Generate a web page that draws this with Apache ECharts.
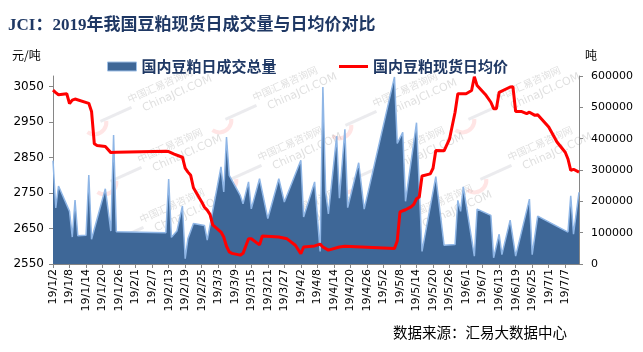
<!DOCTYPE html>
<html>
<head>
<meta charset="utf-8">
<script src="https://cdn.jsdelivr.net/npm/echarts@6/dist/echarts.min.js"></script>
<style>
    html, body { margin: 0; padding: 0; background: #fff; }
    #main { width: 643px; height: 352px; }
</style>
</head>
<body>
<div id="main"></div>
<script>
    // 国内豆粕日成交总量（吨）
    var volDates = ['1/2','1/3','1/4','1/8','1/9','1/10','1/11','1/14','1/15','1/16',
        '1/21','1/23','1/24','1/25','2/12','2/13','2/14','2/16','2/18','2/19',
        '2/20','2/22','2/26','2/27','3/4','3/5','3/6','3/7','3/11','3/12',
        '3/14','3/15','3/18','3/21','3/25','3/27','4/2','4/3','4/7','4/9',
        '4/10','4/11','4/12','4/15','4/16','4/18','4/19','4/23','4/25','5/6',
        '5/7','5/9','5/10','5/14','5/16','5/21','5/24','5/28','5/29','5/30',
        '5/31','6/4','6/5','6/10','6/11','6/13','6/14','6/17','6/19','6/24',
        '6/25','6/27','7/8','7/9','7/10','7/12'];
    var volume = [330000,179000,249000,168000,86000,204000,90000,92000,284000,79000,
        240000,105000,412000,103000,100000,271000,85000,105000,185000,17000,
        81000,129000,123000,76000,310000,230000,405000,283000,219000,192000,
        262000,176000,272000,145000,272000,198000,331000,150000,262000,40000,
        565000,230000,160000,408000,210000,430000,180000,323000,175000,597000,
        385000,420000,200000,451000,40000,279000,60000,62000,203000,168000,
        246000,25000,175000,155000,20000,95000,30000,140000,25000,207000,
        30000,153000,102000,218000,95000,229000];

    // 国内豆粕现货日均价（元/吨）
    var priceDates = ['1/2','1/3','1/4','1/7','1/8','1/9','1/10','1/15','1/16','1/17',
        '1/18','1/21','1/23','1/25','2/12','2/13','2/15','2/18','2/19','2/20',
        '2/21','2/22','2/25','2/26','2/27','2/28','3/1','3/4','3/5','3/6',
        '3/7','3/8','3/11','3/12','3/14','3/15','3/18','3/19','3/25','3/28',
        '3/31','4/2','4/3','4/7','4/9','4/10','4/12','4/16','4/18','5/6',
        '5/7','5/8','5/10','5/12','5/13','5/14','5/15','5/16','5/19','5/20',
        '5/21','5/24','5/26','5/28','5/29','6/1','6/3','6/4','6/5','6/8',
        '6/10','6/11','6/12','6/13','6/17','6/18','6/19','6/21','6/23','6/24',
        '6/26','6/27','7/1','7/4','7/7','7/8','7/9','7/10','7/12'];
    var price = [3040,3033,3027,3030,3002,3012,3015,3003,2980,2889,
        2884,2881,2864,2865,2868,2867,2860,2851,2820,2809,
        2800,2765,2725,2710,2702,2690,2660,2640,2626,2600,
        2584,2580,2575,2580,2621,2621,2604,2629,2626,2621,
        2603,2579,2598,2601,2606,2598,2589,2598,2600,2594,
        2615,2697,2703,2711,2718,2734,2739,2798,2804,2820,
        2870,2869,2903,2978,3030,3030,3039,3078,3053,3028,
        3006,2988,2988,3034,3049,3050,2980,2980,2974,2978,
        2969,2971,2936,2894,2865,2846,2814,2817,2809];

    var seriesNames = ['国内豆粕日成交总量', '国内豆粕现货日均价'];

    var DAY = 86400000;
    var START = Date.UTC(2019, 0, 2);
    function dayOf(s) {
        var p = s.split('/');
        return (Date.UTC(2019, +p[0] - 1, +p[1]) - START) / DAY;
    }
    function dateLabel(v) {
        var d = new Date(START + v * DAY);
        return '19/' + (d.getUTCMonth() + 1) + '/' + d.getUTCDate();
    }
    function pairs(dates, vals) {
        var out = [];
        for (var i = 0; i < dates.length; i++) out.push([dayOf(dates[i]), vals[i]]);
        return out;
    }
    function plain(v) { return String(v); }

    // 水印
    var marks = [[140, 102], [265, 100], [385, 106], [508, 100],
                 [150, 162], [270, 160], [392, 160], [520, 160],
                 [152, 222], [285, 222], [420, 218]];
    var graphics = [];
    marks.forEach(function (m) {
        graphics.push({
            type: 'group', x: m[0], y: m[1], rotation: 0.42, z: 50, silent: true,
            children: [
                { type: 'text', x: -10, y: -12, style: { text: '中国汇易咨询网', fill: 'rgba(150,150,150,0.3)', font: '10px "Noto Sans CJK SC"' } },
                { type: 'text', x: 0, y: 2, style: { text: 'ChinaJCI.COM', fill: 'rgba(150,150,150,0.3)', font: '11px "DejaVu Sans"' } },
                { type: 'rect', shape: { x: -44, y: 0, width: 34, height: 3 }, style: { fill: 'rgba(190,190,200,0.3)' } },
                { type: 'arc', shape: { cx: -50, cy: 0, r: 12, startAngle: 0.3, endAngle: 2.6 }, style: { stroke: 'rgba(255,110,110,0.18)', lineWidth: 4, fill: null } }
            ]
        });
    });
    graphics.push(
        { type: 'text', left: 12, top: 49, style: { text: '元/吨', font: '12px "Noto Sans CJK SC"', fill: '#000' } },
        { type: 'text', left: 585, top: 49, style: { text: '吨', font: '12px "Noto Sans CJK SC"', fill: '#000' } },
        { type: 'text', left: 393, top: 325, style: { text: '数据来源：汇易大数据中心', font: '14.5px "Noto Sans CJK SC"', fill: '#000' } }
    );

    var legendText = { color: '#1f3864', fontSize: 15, fontWeight: 'bold', fontFamily: 'Noto Sans CJK SC' };
    var axisColor = '#868686';

    var chart = echarts.init(document.getElementById('main'));
    chart.setOption({
        animation: false,
        backgroundColor: '#fff',
        title: {
            text: 'JCI：2019年我国豆粕现货日成交量与日均价对比',
            left: 8, top: 17, padding: 0,
            textStyle: { fontSize: 17, fontWeight: 'bold', color: '#1f3864', fontFamily: '"Liberation Serif", "Noto Sans CJK SC"' }
        },
        legend: [{
            left: 107, top: 59, padding: 0, itemWidth: 29, itemHeight: 9,
            data: [{ name: seriesNames[0], icon: 'rect', itemStyle: { color: '#3e6797', borderColor: '#9fc0e6', borderWidth: 1 } }],
            textStyle: legendText
        }, {
            left: 339, top: 59, padding: 0, itemWidth: 29, itemHeight: 3,
            data: [{ name: seriesNames[1], icon: 'rect', itemStyle: { color: '#ff0000' } }],
            textStyle: legendText
        }],
        graphic: graphics,
        grid: { left: 53, right: 64, top: 76, bottom: 88 },
        xAxis: {
            type: 'value', min: 0, max: 191, interval: 6,
            axisLine: { show: true, lineStyle: { color: axisColor } },
            axisTick: { show: true, length: 4, lineStyle: { color: axisColor } },
            splitLine: { show: false },
            axisLabel: {
                rotate: 90, margin: 5, fontSize: 11, color: '#000', fontFamily: 'DejaVu Sans',
                showMaxLabel: false, formatter: dateLabel
            }
        },
        yAxis: [{
            type: 'value', min: 2550, max: 3080, interval: 100, position: 'left',
            axisLine: { show: true, lineStyle: { color: axisColor } },
            axisTick: { show: true, length: 4, lineStyle: { color: axisColor } },
            splitLine: { show: false },
            axisLabel: { fontSize: 12, color: '#000', margin: 9, fontFamily: 'DejaVu Sans', showMaxLabel: false, formatter: plain }
        }, {
            type: 'value', min: 0, max: 600000, interval: 100000, position: 'right',
            axisLine: { show: true, lineStyle: { color: axisColor } },
            axisTick: { show: true, length: 4, lineStyle: { color: axisColor } },
            splitLine: { show: false },
            axisLabel: { fontSize: 11, color: '#000', margin: 12, fontFamily: 'DejaVu Sans', formatter: plain }
        }],
        series: [{
            name: seriesNames[0],
            type: 'line',
            yAxisIndex: 1,
            symbol: 'none',
            lineStyle: { color: '#8fb6e6', width: 1.5 },
            itemStyle: { color: '#3e6797' },
            areaStyle: { color: '#3e6797', opacity: 1 },
            z: 2,
            data: pairs(volDates, volume)
        }, {
            name: seriesNames[1],
            type: 'line',
            yAxisIndex: 0,
            symbol: 'none',
            lineStyle: { color: '#ff0000', width: 3 },
            itemStyle: { color: '#ff0000' },
            z: 3,
            data: pairs(priceDates, price)
        }]
    });
</script>
</body>
</html>
